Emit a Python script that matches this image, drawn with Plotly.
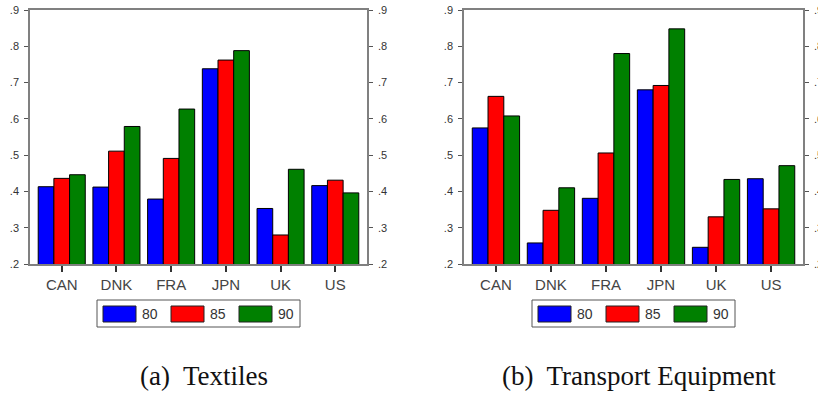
import plotly.graph_objects as go

# ---------------- data ----------------
categories = ["CAN", "DNK", "FRA", "JPN", "UK", "US"]
series_names = ["80", "85", "90"]
series_colors = ["#0000ff", "#ff0000", "#008000"]

textiles_80 = [0.413, 0.412, 0.379, 0.738, 0.353, 0.416]
textiles_85 = [0.436, 0.511, 0.491, 0.762, 0.280, 0.431]
textiles_90 = [0.446, 0.579, 0.627, 0.788, 0.461, 0.396]

transport_80 = [0.575, 0.258, 0.381, 0.680, 0.246, 0.435]
transport_85 = [0.662, 0.348, 0.506, 0.692, 0.330, 0.352]
transport_90 = [0.608, 0.410, 0.780, 0.848, 0.433, 0.471]

y_tick_values = [0.2, 0.3, 0.4, 0.5, 0.6, 0.7, 0.8, 0.9]
y_tick_labels = [".2", ".3", ".4", ".5", ".6", ".7", ".8", ".9"]

panel_titles = ["(a)  Textiles", "(b)  Transport Equipment"]

# ---------------- layout helpers ----------------
W, H = 818, 395
def px(x):
    return x / W
def py(y):
    return 1 - y / H

panels = [
    {"series": [textiles_80, textiles_85, textiles_90], "x0": 30, "x1": 367,
     "xa": "x", "ya": "y", "ya2": "y2"},
    {"series": [transport_80, transport_85, transport_90], "x0": 464, "x1": 803,
     "xa": "x2", "ya": "y3", "ya2": "y4"},
]
plot_top, plot_bottom = 10, 264
axis_color = "#808080"
text_color = "#333333"

fig = go.Figure()
for p in panels:
    for name, color, vals in zip(series_names, series_colors, p["series"]):
        fig.add_trace(go.Bar(
            x=categories, y=vals, name=name,
            marker=dict(color=color, line=dict(color="black", width=1)),
            xaxis=p["xa"], yaxis=p["ya"], showlegend=False,
        ))
    # invisible companion trace so the right-hand axis is drawn
    fig.add_trace(go.Scatter(
        x=categories, y=p["series"][0], mode="markers",
        marker=dict(opacity=0), hoverinfo="skip", showlegend=False,
        xaxis=p["xa"], yaxis=p["ya2"],
    ))

ydom = [py(plot_bottom), py(plot_top)]
common_x = dict(type="category", range=[-0.58, 5.58], showline=True, mirror=True,
                linecolor=axis_color, linewidth=1.5, ticks="outside", ticklen=6,
                tickwidth=1.5, tickcolor="#333333", showgrid=False, zeroline=False,
                tickfont=dict(family="Liberation Sans, Arial", size=15, color="#444444"),
                fixedrange=True)
common_y = dict(range=[0.2, 0.9], tickvals=y_tick_values, ticktext=y_tick_labels,
                showline=True, linecolor=axis_color, linewidth=1.5, ticks="outside",
                ticklen=4, tickwidth=1, tickcolor="#555555", showgrid=False,
                zeroline=False, ticklabelstandoff=3,
                tickfont=dict(family="Liberation Sans, Arial", size=11, color=text_color),
                fixedrange=True)

layout_axes = {}
for i, p in enumerate(panels):
    xkey = "xaxis" if i == 0 else "xaxis2"
    ykey = "yaxis" if i == 0 else "yaxis3"
    y2key = "yaxis2" if i == 0 else "yaxis4"
    layout_axes[xkey] = dict(common_x, domain=[px(p["x0"]), px(p["x1"])], anchor=p["ya"])
    layout_axes[ykey] = dict(common_y, domain=ydom, anchor=p["xa"], side="left")
    layout_axes[y2key] = dict(common_y, overlaying=p["ya"], anchor=p["xa"], side="right")

# ---------------- legends (one per panel) and captions ----------------
shapes, annotations = [], []
for i, p in enumerate(panels):
    cx = (p["x0"] + p["x1"]) / 2
    bx0, bx1 = cx - 101.5, cx + 101.5
    shapes.append(dict(type="rect", xref="paper", yref="paper",
                       x0=px(bx0), x1=px(bx1), y0=py(327), y1=py(300),
                       line=dict(color="#555555", width=1), fillcolor="white"))
    for j, (name, color) in enumerate(zip(series_names, series_colors)):
        sx0 = bx0 + 6 + 68 * j
        shapes.append(dict(type="rect", xref="paper", yref="paper",
                           x0=px(sx0), x1=px(sx0 + 33), y0=py(322), y1=py(306),
                           line=dict(color="#222222", width=1), fillcolor=color))
        annotations.append(dict(text=name, xref="paper", yref="paper",
                                x=px(sx0 + 37), y=py(314), xanchor="left", yanchor="middle",
                                showarrow=False,
                                font=dict(family="Liberation Sans, Arial", size=14, color=text_color)))
    annotations.append(dict(text=panel_titles[i], xref="paper", yref="paper",
                            x=px(cx + 5), y=py(376), xanchor="center", yanchor="middle",
                            showarrow=False,
                            font=dict(family="Liberation Serif, Times New Roman, serif",
                                      size=27, color="#111111")))

fig.update_layout(
    width=W, height=H, margin=dict(l=0, r=0, t=0, b=0),
    paper_bgcolor="white", plot_bgcolor="white", template="none",
    barmode="group", bargap=0.14, bargroupgap=0,
    showlegend=False, shapes=shapes, annotations=annotations,
    **layout_axes,
)

fig.write_html(
    "out.html",
    config={"displayModeBar": False},
    post_script="document.body.style.margin='0';document.body.style.overflow='hidden';",
)
